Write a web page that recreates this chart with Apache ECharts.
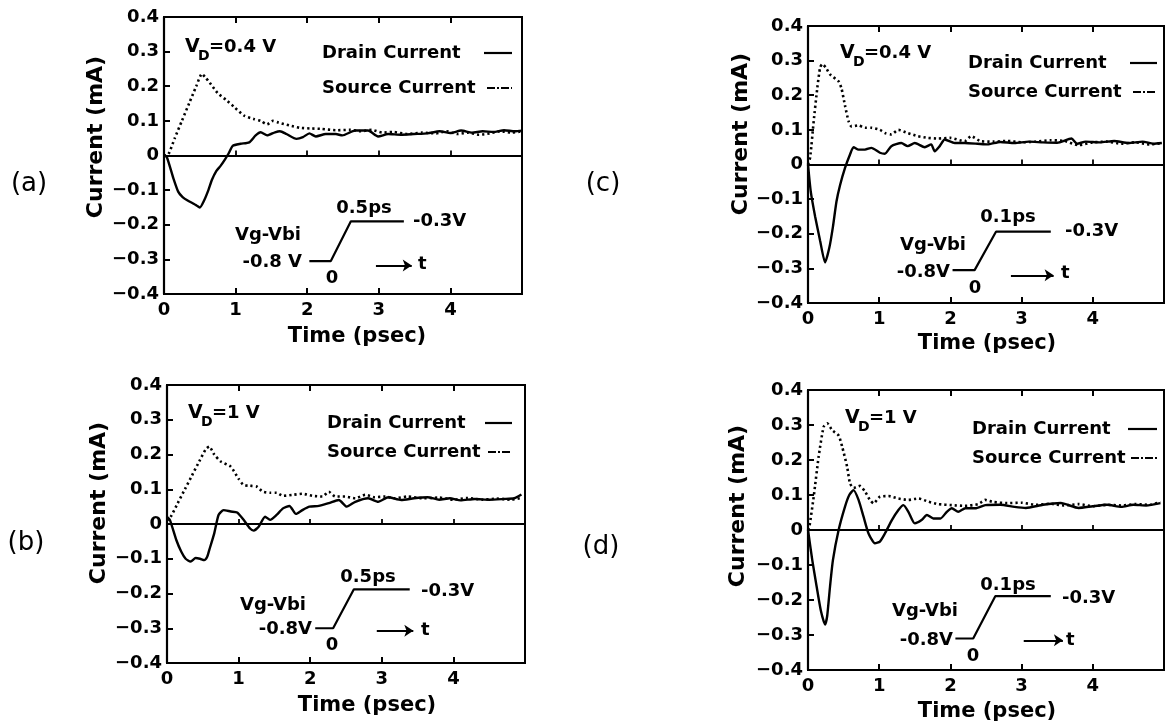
<!DOCTYPE html>
<html><head><meta charset="utf-8">
<script src="https://cdn.jsdelivr.net/npm/echarts@6/dist/echarts.min.js"></script>
<style>html,body{margin:0;padding:0;background:#fff}#c{width:1173px;height:725px}</style>
</head><body><div id="c"></div>
<script>
// ---------- data (time in psec, current in mA) ----------
const timeTicks = [0, 1, 2, 3, 4];
const currentTicks = [-0.4, -0.3, -0.2, -0.1, 0, 0.1, 0.2, 0.3, 0.4];
const panelLabels = ['(a)', '(b)', '(c)', '(d)'];
const vdLabels = ['=0.4 V', '=1 V', '=0.4 V', '=1 V'];
const rampLabels = ['0.5ps', '0.5ps', '0.1ps', '0.1ps'];

const drainA = [[0,0],[0.04,-0.005],[0.13,-0.065],[0.2,-0.105],[0.26,-0.12],[0.33,-0.13],[0.42,-0.14],[0.5,-0.15],[0.56,-0.13],[0.62,-0.1],[0.67,-0.07],[0.73,-0.045],[0.79,-0.03],[0.85,-0.012],[0.9,0.005],[0.96,0.028],[1.07,0.034],[1.19,0.038],[1.28,0.058],[1.35,0.067],[1.44,0.058],[1.55,0.067],[1.62,0.07],[1.71,0.062],[1.85,0.048],[1.94,0.053],[2.03,0.064],[2.12,0.055],[2.26,0.062],[2.4,0.062],[2.49,0.058],[2.67,0.072],[2.85,0.072],[2.99,0.055],[3.13,0.062],[3.31,0.06],[3.49,0.062],[3.68,0.064],[3.85,0.07],[4.0,0.065],[4.15,0.072],[4.3,0.066],[4.45,0.07],[4.6,0.068],[4.75,0.073],[4.9,0.07],[5.0,0.072]];
const sourceA = [[0,0],[0.06,0.003],[0.15,0.05],[0.25,0.1],[0.35,0.15],[0.45,0.2],[0.53,0.236],[0.58,0.225],[0.64,0.21],[0.75,0.18],[0.87,0.16],[0.98,0.14],[1.12,0.115],[1.26,0.105],[1.35,0.1],[1.44,0.09],[1.52,0.1],[1.6,0.095],[1.75,0.087],[1.9,0.08],[2.05,0.078],[2.2,0.077],[2.4,0.073],[2.6,0.074],[2.75,0.07],[2.9,0.074],[3.05,0.066],[3.2,0.068],[3.4,0.062],[3.6,0.066],[3.8,0.064],[3.95,0.07],[4.1,0.062],[4.25,0.066],[4.4,0.06],[4.55,0.064],[4.7,0.07],[4.85,0.066],[5.0,0.07]];

const drainB = [[0,0.02],[0.04,0.012],[0.13,-0.046],[0.2,-0.08],[0.26,-0.1],[0.33,-0.108],[0.4,-0.098],[0.46,-0.1],[0.52,-0.104],[0.56,-0.095],[0.59,-0.075],[0.66,-0.027],[0.72,0.026],[0.79,0.04],[0.89,0.036],[0.98,0.033],[1.07,0.012],[1.16,-0.013],[1.21,-0.019],[1.28,-0.008],[1.37,0.021],[1.44,0.012],[1.53,0.026],[1.62,0.045],[1.71,0.052],[1.8,0.029],[1.89,0.04],[1.99,0.05],[2.12,0.052],[2.26,0.06],[2.4,0.069],[2.51,0.05],[2.63,0.064],[2.81,0.074],[2.95,0.064],[3.09,0.077],[3.27,0.069],[3.45,0.074],[3.64,0.077],[3.8,0.07],[3.95,0.074],[4.1,0.068],[4.3,0.072],[4.5,0.07],[4.7,0.072],[4.85,0.074],[4.95,0.085]];
const sourceB = [[0,0.01],[0.05,0.02],[0.15,0.06],[0.25,0.1],[0.35,0.14],[0.45,0.18],[0.54,0.215],[0.59,0.223],[0.66,0.2],[0.75,0.18],[0.89,0.165],[1.0,0.13],[1.07,0.112],[1.16,0.11],[1.25,0.108],[1.34,0.093],[1.44,0.09],[1.53,0.09],[1.62,0.081],[1.76,0.084],[1.89,0.087],[2.03,0.081],[2.17,0.079],[2.26,0.093],[2.35,0.079],[2.49,0.079],[2.63,0.074],[2.77,0.084],[2.9,0.077],[3.04,0.079],[3.18,0.074],[3.36,0.079],[3.59,0.074],[3.8,0.076],[4.0,0.07],[4.2,0.075],[4.4,0.07],[4.6,0.073],[4.8,0.07],[4.95,0.075]];

const drainC = [[0,0],[0.04,-0.08],[0.1,-0.15],[0.17,-0.22],[0.24,-0.283],[0.3,-0.24],[0.35,-0.18],[0.4,-0.107],[0.45,-0.06],[0.52,-0.01],[0.59,0.029],[0.64,0.05],[0.71,0.043],[0.8,0.043],[0.89,0.048],[1.01,0.034],[1.08,0.031],[1.17,0.053],[1.31,0.062],[1.4,0.053],[1.5,0.062],[1.64,0.05],[1.73,0.058],[1.78,0.038],[1.85,0.053],[1.92,0.072],[2.06,0.062],[2.2,0.062],[2.38,0.06],[2.52,0.058],[2.7,0.065],[2.9,0.062],[3.1,0.066],[3.3,0.064],[3.5,0.063],[3.7,0.075],[3.78,0.06],[3.9,0.066],[4.1,0.064],[4.3,0.068],[4.5,0.062],[4.7,0.066],[4.85,0.06],[4.97,0.062]];
const sourceC = [[0,0],[0.03,0.02],[0.08,0.125],[0.13,0.22],[0.17,0.28],[0.2,0.29],[0.25,0.28],[0.31,0.26],[0.43,0.24],[0.47,0.22],[0.52,0.17],[0.57,0.125],[0.61,0.11],[0.71,0.113],[0.8,0.106],[0.89,0.106],[1.01,0.1],[1.08,0.091],[1.17,0.087],[1.27,0.1],[1.4,0.091],[1.54,0.082],[1.68,0.077],[1.82,0.075],[2.0,0.077],[2.2,0.067],[2.29,0.082],[2.43,0.067],[2.6,0.066],[2.8,0.068],[3.0,0.064],[3.2,0.066],[3.4,0.07],[3.6,0.068],[3.8,0.056],[4.0,0.064],[4.2,0.066],[4.4,0.06],[4.6,0.064],[4.8,0.058],[4.97,0.062]];

const drainD = [[0,0],[0.06,-0.086],[0.12,-0.16],[0.18,-0.23],[0.24,-0.27],[0.27,-0.245],[0.31,-0.16],[0.35,-0.086],[0.43,0],[0.52,0.067],[0.58,0.1],[0.64,0.114],[0.71,0.086],[0.78,0.038],[0.85,-0.01],[0.94,-0.038],[1.01,-0.033],[1.08,-0.01],[1.18,0.029],[1.27,0.057],[1.34,0.071],[1.41,0.052],[1.5,0.019],[1.6,0.029],[1.67,0.043],[1.76,0.033],[1.86,0.033],[1.95,0.052],[2.02,0.062],[2.11,0.052],[2.21,0.062],[2.35,0.062],[2.49,0.071],[2.7,0.072],[2.9,0.066],[3.06,0.063],[3.3,0.072],[3.55,0.077],[3.8,0.063],[4.0,0.068],[4.2,0.072],[4.4,0.066],[4.57,0.072],[4.75,0.07],[4.95,0.077]];
const sourceD = [[0,0],[0.02,0.01],[0.08,0.095],[0.15,0.21],[0.22,0.295],[0.27,0.305],[0.34,0.285],[0.43,0.27],[0.48,0.238],[0.55,0.18],[0.59,0.133],[0.64,0.12],[0.73,0.126],[0.8,0.11],[0.87,0.086],[0.92,0.076],[1.01,0.095],[1.13,0.097],[1.27,0.09],[1.41,0.086],[1.55,0.09],[1.69,0.081],[1.83,0.074],[2.02,0.071],[2.2,0.069],[2.39,0.074],[2.49,0.086],[2.6,0.08],[2.8,0.077],[3.0,0.078],[3.2,0.072],[3.4,0.075],[3.6,0.07],[3.8,0.074],[4.0,0.068],[4.2,0.072],[4.4,0.07],[4.6,0.074],[4.8,0.072],[4.95,0.08]];

// gate-voltage pulse sketch (inset), drawn in the panel's own axes
const pulseA = [[2.03,-0.305],[2.33,-0.305],[2.61,-0.19],[3.35,-0.19]];
const pulseB = [[2.07,-0.3],[2.32,-0.3],[2.61,-0.188],[3.39,-0.188]];
const pulseC = [[2.03,-0.305],[2.34,-0.305],[2.64,-0.194],[3.41,-0.194]];
const pulseD = [[2.07,-0.31],[2.32,-0.31],[2.63,-0.189],[3.41,-0.189]];
const arrowA = [[2.96,-0.318],[3.46,-0.318]];
const arrowB = [[2.93,-0.307],[3.44,-0.307]];
const arrowC = [[2.85,-0.32],[3.45,-0.32]];
const arrowD = [[3.03,-0.315],[3.58,-0.315]];

// ---------- layout ----------
const FF = 'DejaVu Sans';
const FW = 'bold';
const grids = [
  {left:164, top:17,  width:358, height:277},
  {left:167, top:385, width:358, height:278},
  {left:808, top:26,  width:356, height:277},
  {left:808, top:390, width:356, height:280}
];
const drains = [drainA, drainB, drainC, drainD];
const sources = [sourceA, sourceB, sourceC, sourceD];
const pulses = [pulseA, pulseB, pulseC, pulseD];
const arrows = [arrowA, arrowB, arrowC, arrowD];

const fmtY = v => Math.abs(v) < 1e-9 ? '0' : (v < 0 ? '\u2212' : '') + Math.abs(v).toFixed(1);

const xAxes = [], yAxes = [], series = [];
grids.forEach((g, i) => {
  const base = {type:'value', gridIndex:i, min:timeTicks[0], max:5, interval:1, splitLine:{show:false}};
  xAxes.push(Object.assign({}, base, {position:'bottom',
    axisLine:{onZero:false, lineStyle:{color:'#000', width:2.2}},
    axisTick:{inside:true, length:6, lineStyle:{color:'#000', width:2}},
    axisLabel:{margin:7, color:'#000', fontSize:18, fontFamily:FF, fontWeight:FW, showMaxLabel:false}}));
  xAxes.push(Object.assign({}, base, {position:'top',
    axisLine:{onZero:false, lineStyle:{color:'#000', width:2}},
    axisTick:{inside:true, length:6, lineStyle:{color:'#000', width:2}},
    axisLabel:{show:false}}));
  xAxes.push(Object.assign({}, base, {position:'bottom',
    axisLine:{onZero:true, lineStyle:{color:'#000', width:2}},
    axisTick:{inside:true, length:5, lineStyle:{color:'#000', width:1.8}},
    axisLabel:{show:false}}));
  yAxes.push({type:'value', gridIndex:i, min:currentTicks[0], max:currentTicks[currentTicks.length-1], interval:0.1,
    splitLine:{show:false},
    axisLine:{onZero:false, lineStyle:{color:'#000', width:2.2}},
    axisTick:{inside:true, length:6, lineStyle:{color:'#000', width:2}},
    axisLabel:{margin:5, color:'#000', fontSize:18, fontFamily:FF, fontWeight:FW, formatter:fmtY}});
  const xi = i * 3;
  series.push({name:'Drain Current', type:'line', xAxisIndex:xi, yAxisIndex:i, data:drains[i],
    showSymbol:false, symbol:'none', smooth:0.2, lineStyle:{color:'#000', width:2.4}, z:3, silent:true});
  series.push({name:'Source Current', type:'line', xAxisIndex:xi, yAxisIndex:i, data:sources[i],
    showSymbol:false, symbol:'none', smooth:0.2, lineStyle:{color:'#000', width:2.6, type:[2.2,3]}, z:3, silent:true});
  series.push({name:'Vg-Vbi', type:'line', xAxisIndex:xi, yAxisIndex:i, data:pulses[i],
    showSymbol:false, symbol:'none', lineStyle:{color:'#000', width:2.2}, silent:true,
    markLine:{silent:true, symbol:['none','arrow'], symbolSize:9, label:{show:false},
      lineStyle:{color:'#000', width:2, type:'solid'},
      data:[[{coord:arrows[i][0]}, {coord:arrows[i][1]}]]}});
});

// ---------- annotations ----------
function T(x, y, s, size, align, extra, weight) {
  return Object.assign({type:'text', x:x, y:y, silent:true, z:10,
    style:{text:s, fill:'#000', fontSize:size || 18, fontFamily:FF, fontWeight:weight || FW, align:align || 'left', verticalAlign:'middle'}}, extra || {});
}
function L(x1, y1, x2, y2, dash) {
  return {type:'line', silent:true, z:10, shape:{x1, y1, x2, y2},
    style:{stroke:'#000', lineWidth:2.2, lineDash:dash || null}};
}
const graphic = [];
// panel letters
[[29,184],[26,543],[603,184],[601,547]].forEach((p, i) => graphic.push(T(p[0], p[1], panelLabels[i], 26, 'center', null, 'normal')));
// V_D labels
const vdPos = [[185,47],[188,413],[840,53],[845,418]];
vdPos.forEach((p, i) => {
  graphic.push(T(p[0], p[1], 'V', 19));
  graphic.push(T(p[0] + 13, p[1] + 9, 'D', 14));
  graphic.push(T(p[0] + 24, p[1], vdLabels[i], 18));
});
// legends
const legPos = [[322,53,88,484,512],[327,423,452,485,512],[968,63,92,1130,1157],[972,429,458,1128,1157]];
legPos.forEach(p => {
  graphic.push(T(p[0], p[1], 'Drain Current', 18));
  graphic.push(T(p[0], p[2], 'Source Current', 18));
  graphic.push(L(p[3], p[1], p[4], p[1]));
  graphic.push(L(p[3] + 3, p[2], p[4], p[2], [8,2,2,2]));
});
// inset texts
const inset = [
  {vg:[268,235], m8:[302,262], ramp:[364,208], m3:[413,221], zero:[332,278], t:[418,264]},
  {vg:[273,605], m8:[312,629], ramp:[368,577], m3:[421,591], zero:[332,645], t:[421,630]},
  {vg:[933,245], m8:[950,272], ramp:[1008,217], m3:[1065,231], zero:[975,288], t:[1061,273]},
  {vg:[925,611], m8:[953,640], ramp:[1008,585], m3:[1062,598], zero:[973,656], t:[1066,640]}
];
inset.forEach((q, i) => {
  graphic.push(T(q.vg[0], q.vg[1], 'Vg-Vbi', 18, 'center'));
  graphic.push(T(q.m8[0], q.m8[1], i === 0 ? '-0.8 V' : '-0.8V', 18, 'right'));
  graphic.push(T(q.ramp[0], q.ramp[1], rampLabels[i], 18, 'center'));
  graphic.push(T(q.m3[0], q.m3[1], '-0.3V', 18, 'left'));
  graphic.push(T(q.zero[0], q.zero[1], '0', 18, 'center'));
  graphic.push(T(q.t[0], q.t[1], 't', 18, 'left'));
});
// axis titles
const yName = [[96,137],[99,503],[741,134],[738,506]];
yName.forEach(p => graphic.push(T(p[0], p[1], 'Current (mA)', 22, 'center', {rotation:Math.PI/2})));
const xName = [[357,337],[367,706],[987,344],[987,712]];
xName.forEach(p => graphic.push(T(p[0], p[1], 'Time (psec)', 21, 'center')));

const chart = echarts.init(document.getElementById('c'), null, {renderer:'canvas'});
chart.setOption({
  animation:false,
  backgroundColor:'#fff',
  grid: grids.map(g => Object.assign({show:true, borderColor:'#000', borderWidth:2, backgroundColor:'transparent', containLabel:false, outerBoundsMode:'none'}, g)),
  xAxis: xAxes,
  yAxis: yAxes,
  series: series,
  graphic: graphic
});
</script></body></html>
